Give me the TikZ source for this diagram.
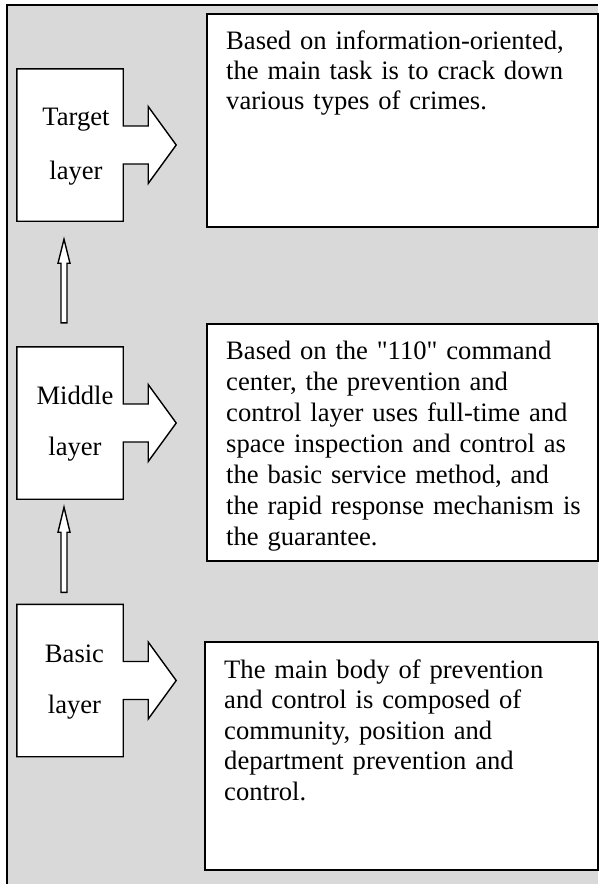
\documentclass[tikz,border=0pt]{standalone}
\usepackage{fontspec}
\setmainfont{Liberation Serif}
\newfontfamily\nomapfont[Ligatures=TeXOff]{Liberation Serif}
\usetikzlibrary{calc}
\definecolor{bg}{RGB}{217,217,217}
\tikzset{
  frame/.style={draw=black, line width=2pt},
  lshape/.style={draw=black, fill=white, line width=1.4pt, line join=miter},
  lanchor/.style={rectangle, draw=none, minimum width=106pt, minimum height=152pt, inner sep=0pt},
  ltxt/.style={font=\fontsize{26.6}{30}\selectfont, inner sep=0pt, anchor=base},
  rbox/.style={rectangle, draw=black, fill=white, line width=1.5pt, anchor=north west, inner sep=0pt},
  rtxt/.style={align=left, inner sep=0pt, anchor=base west, text width=360pt},
  uparrow/.style={draw=black, fill=white, line width=1.4pt, line join=miter}
}
\begin{document}
\begin{tikzpicture}[x=1pt, y=-1pt]
\useasboundingbox (0,0) rectangle (598,884);
\fill[white] (0,0) rectangle (598,884);
\fill[bg] (7,4) rectangle (598,884);
\draw[frame] (6.5,884) -- (6.5,4.5) -- (598,4.5);

% right text boxes
\node[rbox, minimum width=391pt, minimum height=213pt] (tt) at (206,13) {};
\node[rbox, minimum width=391pt, minimum height=237pt] (mt) at (206,323) {};
\node[rbox, minimum width=393pt, minimum height=228pt] (bt) at (204,641) {};

\node[rtxt, font=\fontsize{26.6}{30}\selectfont] (ttx) at (226,49) {Based on information-oriented,\\the main task is to crack down\\various types of crimes.};
\node[rtxt, font=\fontsize{26.6}{31}\selectfont] (mtx) at (226,359) {Based on the {\nomapfont "110"} command\\center, the prevention and\\control layer uses full-time and\\space inspection and control as\\the basic service method, and\\the rapid response mechanism is\\the guarantee.};
\node[rtxt, font=\fontsize{26.6}{30.5}\selectfont] (btx) at (224,678) {The main body of prevention\\and control is composed of\\community, position and\\department prevention and\\control.};

% left layer boxes (anchors)
\node[lanchor] (tl) at (70,145) {};
\node[lanchor] (ml) at (70,423) {};
\node[lanchor] (bl) at (70,680.5) {};

\foreach \n in {tl,ml,bl}{
  \draw[lshape] (\n.north west) -- (\n.north east) -- ($(\n.east)+(0,-19)$) -- ++(25,0) -- ++(0,-19.5)
    -- ($(\n.east)+(53,0)$) -- ($(\n.east)+(25,38.5)$) -- ++(0,-19.5) -- ($(\n.east)+(0,19)$)
    -- (\n.south east) -- (\n.south west) -- cycle;
}

\node[ltxt] (tl1) at (76,125) {Target};
\node[ltxt] (tl2) at (76,179) {layer};
\node[ltxt] (ml1) at (75,404) {Middle};
\node[ltxt] (ml2) at (75,455) {layer};
\node[ltxt] (bl1) at (74.5,662) {Basic};
\node[ltxt] (bl2) at (74.5,713) {layer};

% hollow up arrows
\coordinate (a1s) at ($(ml.north)+(-6,-24)$);
\coordinate (a1e) at ($(tl.south)+(-6,18)$);
\coordinate (a2s) at ($(bl.north)+(-6,-12)$);
\coordinate (a2e) at ($(ml.south)+(-6,8)$);
\draw[uparrow] ($(a1s)+(-3,0)$) -- ($(a1e)+(-3,24)$) -- ($(a1e)+(-6,24)$) -- (a1e)
  -- ($(a1e)+(6,24)$) -- ($(a1e)+(3,24)$) -- ($(a1s)+(3,0)$) -- cycle;
\draw[uparrow] ($(a2s)+(-3,0)$) -- ($(a2e)+(-3,25)$) -- ($(a2e)+(-6,25)$) -- (a2e)
  -- ($(a2e)+(6,25)$) -- ($(a2e)+(3,25)$) -- ($(a2s)+(3,0)$) -- cycle;
\end{tikzpicture}
\end{document}
